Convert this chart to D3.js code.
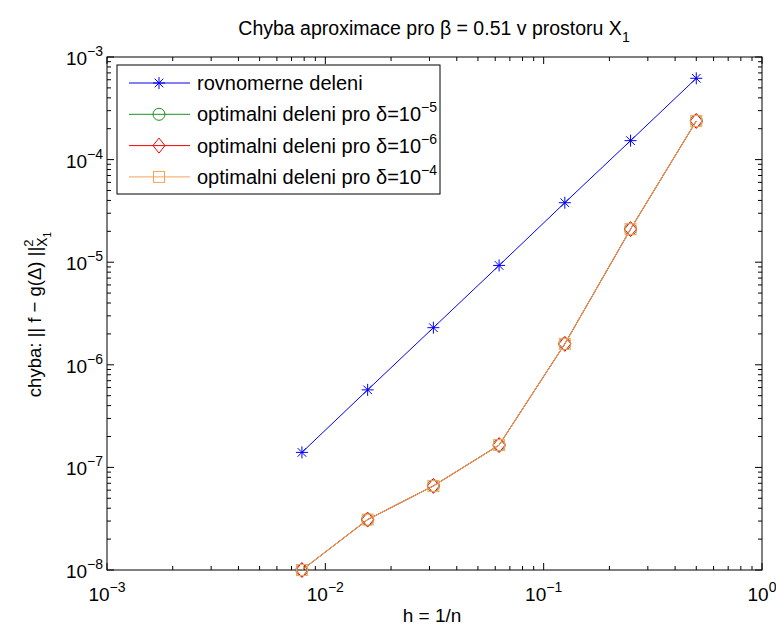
<!DOCTYPE html>
<html>
<head>
<meta charset="utf-8">
<script src="https://cdn.jsdelivr.net/npm/d3@7"></script>
<style>
  body { margin: 0; background: #fff; }
  text { font-family: "Liberation Sans", Arial, sans-serif; fill: #000; }
</style>
</head>
<body>
<svg id="chart" width="776" height="630"></svg>
<script>
// h = 1/n
const hValues = [1/128, 1/64, 1/32, 1/16, 1/8, 1/4, 1/2];
// error values
const uniformErr = [1.4e-7, 5.7e-7, 2.3e-6, 9.3e-6, 3.8e-5, 1.53e-4, 6.2e-4];
const optErr5 = [1.0e-8, 3.1e-8, 6.6e-8, 1.65e-7, 1.6e-6, 2.1e-5, 2.38e-4];
const optErr6 = [1.0e-8, 3.1e-8, 6.6e-8, 1.65e-7, 1.6e-6, 2.1e-5, 2.38e-4];
const optErr4 = [1.0e-8, 3.1e-8, 6.6e-8, 1.65e-7, 1.6e-6, 2.1e-5, 2.38e-4];
const xTickExp = [-3, -2, -1, 0];
const yTickExp = [-8, -7, -6, -5, -4, -3];

const series = [
    { name: 'rovnomerne deleni', delta: null, values: uniformErr, color: '#0000ff', marker: 'star' },
    { name: 'optimalni deleni pro ', delta: '\u22125', values: optErr5, color: '#1f8f1f', marker: 'circle' },
    { name: 'optimalni deleni pro ', delta: '\u22126', values: optErr6, color: '#ff0000', marker: 'diamond' },
    { name: 'optimalni deleni pro ', delta: '\u22124', values: optErr4, color: '#f7a25a', marker: 'square' }
];

const svg = d3.select('#chart');
const plotL = 107, plotR = 762, plotT = 57, plotB = 570;
const fs = 19;

const x = d3.scaleLog().domain([1e-3, 1]).range([plotL, plotR]);
const y = d3.scaleLog().domain([1e-8, 1e-3]).range([plotB, plotT]);

// frame
svg.append('rect').attr('x', plotL).attr('y', plotT)
    .attr('width', plotR - plotL).attr('height', plotB - plotT)
    .attr('fill', 'none').attr('stroke', '#000').attr('stroke-width', 1);

// ticks (inward, on all four sides)
const minor = (lo, hi) => {
    const out = [];
    for (let e = lo; e < hi; e++) {
        for (let m = 2; m <= 9; m++) out.push(m * Math.pow(10, e));
    }
    return out;
};
const tickG = svg.append('g').attr('stroke', '#000').attr('stroke-width', 1);
xTickExp.forEach(e => {
    const px = x(Math.pow(10, e));
    tickG.append('line').attr('x1', px).attr('x2', px).attr('y1', plotB).attr('y2', plotB - 7);
    tickG.append('line').attr('x1', px).attr('x2', px).attr('y1', plotT).attr('y2', plotT + 7);
});
minor(-3, 0).forEach(v => {
    const px = x(v);
    tickG.append('line').attr('x1', px).attr('x2', px).attr('y1', plotB).attr('y2', plotB - 4);
    tickG.append('line').attr('x1', px).attr('x2', px).attr('y1', plotT).attr('y2', plotT + 4);
});
yTickExp.forEach(e => {
    const py = y(Math.pow(10, e));
    tickG.append('line').attr('x1', plotL).attr('x2', plotL + 7).attr('y1', py).attr('y2', py);
    tickG.append('line').attr('x1', plotR).attr('x2', plotR - 7).attr('y1', py).attr('y2', py);
});
minor(-8, -3).forEach(v => {
    const py = y(v);
    tickG.append('line').attr('x1', plotL).attr('x2', plotL + 4).attr('y1', py).attr('y2', py);
    tickG.append('line').attr('x1', plotR).attr('x2', plotR - 4).attr('y1', py).attr('y2', py);
});

// tick labels
const powLabel = (sel, e) => {
    sel.append('tspan').text('10');
    sel.append('tspan').attr('dy', -9).attr('font-size', 14).text(e < 0 ? '\u2212' + (-e) : e);
};
xTickExp.forEach(e => {
    const t = svg.append('text').attr('x', x(Math.pow(10, e))).attr('y', plotB + 31)
        .attr('font-size', fs).attr('text-anchor', 'middle');
    powLabel(t, e);
});
yTickExp.forEach(e => {
    const t = svg.append('text').attr('x', plotL - 4).attr('y', y(Math.pow(10, e)) + 8)
        .attr('font-size', fs).attr('text-anchor', 'end');
    powLabel(t, e);
});

// axis titles
svg.append('text').attr('x', 432).attr('y', 622)
    .attr('font-size', 19).attr('text-anchor', 'middle').text('h = 1/n');

const yl = svg.append('text').attr('transform', `translate(41,${(plotT + plotB) / 2 + 1}) rotate(-90)`)
    .attr('font-size', 18.5).attr('text-anchor', 'middle');
yl.append('tspan').text('chyba: || f \u2212 g(\u0394) ||');
const sup2 = yl.append('tspan').attr('dy', -8).attr('font-size', 13).text('2');
const subX = yl.append('tspan').attr('dy', 14).attr('font-size', 14).text('X');
yl.append('tspan').attr('dy', 4).attr('font-size', 10).text('1');
subX.attr('dx', -sup2.node().getComputedTextLength());

const title = svg.append('text').attr('x', 434).attr('y', 35)
    .attr('font-size', 19.5).attr('text-anchor', 'middle');
title.append('tspan').text('Chyba aproximace pro \u03b2 = 0.51 v prostoru X');
title.append('tspan').attr('dy', 7).attr('font-size', 14).text('1');

// markers
function drawMarker(g, type, color, cx, cy) {
    if (type === 'star') {
        const r = 6;
        const p = g.append('g').attr('stroke', color).attr('stroke-width', 1);
        p.append('line').attr('x1', cx - r).attr('x2', cx + r).attr('y1', cy).attr('y2', cy);
        p.append('line').attr('x1', cx).attr('x2', cx).attr('y1', cy - r).attr('y2', cy + r);
        const d = r * 0.72;
        p.append('line').attr('x1', cx - d).attr('x2', cx + d).attr('y1', cy - d).attr('y2', cy + d);
        p.append('line').attr('x1', cx - d).attr('x2', cx + d).attr('y1', cy + d).attr('y2', cy - d);
    } else if (type === 'circle') {
        g.append('circle').attr('cx', cx).attr('cy', cy).attr('r', 6)
            .attr('fill', 'none').attr('stroke', color).attr('stroke-width', 1);
    } else if (type === 'diamond') {
        const r = 7.5;
        g.append('path').attr('d', `M${cx},${cy - r}L${cx + r * 0.8},${cy}L${cx},${cy + r}L${cx - r * 0.8},${cy}Z`)
            .attr('fill', 'none').attr('stroke', color).attr('stroke-width', 1);
    } else if (type === 'square') {
        g.append('rect').attr('x', cx - 5.5).attr('y', cy - 5.5).attr('width', 11).attr('height', 11)
            .attr('fill', 'none').attr('stroke', color).attr('stroke-width', 1);
    }
}

const line = d3.line().x(d => x(d[0])).y(d => y(d[1]));
series.forEach(s => {
    const pts = hValues.map((h, i) => [h, s.values[i]]);
    const g = svg.append('g');
    g.append('path').attr('d', line(pts)).attr('fill', 'none')
        .attr('stroke', s.color).attr('stroke-width', 1);
    pts.forEach(p => drawMarker(g, s.marker, s.color, x(p[0]), y(p[1])));
});

// legend
const lg = svg.append('g');
lg.append('rect').attr('x', 117).attr('y', 65).attr('width', 323).attr('height', 129)
    .attr('fill', '#fff').attr('stroke', '#000').attr('stroke-width', 1);
series.forEach((s, i) => {
    const ly = 83 + i * 31.3;
    lg.append('line').attr('x1', 129).attr('x2', 190).attr('y1', ly).attr('y2', ly)
        .attr('stroke', s.color).attr('stroke-width', 1);
    drawMarker(lg, s.marker, s.color, 159, ly);
    const t = lg.append('text').attr('x', 197).attr('y', ly + 7).attr('font-size', 20);
    t.append('tspan').text(s.name);
    if (s.delta) {
        t.append('tspan').text('\u03b4=10');
        t.append('tspan').attr('dy', -9).attr('font-size', 14).text(s.delta);
    }
});
</script>
</body>
</html>
